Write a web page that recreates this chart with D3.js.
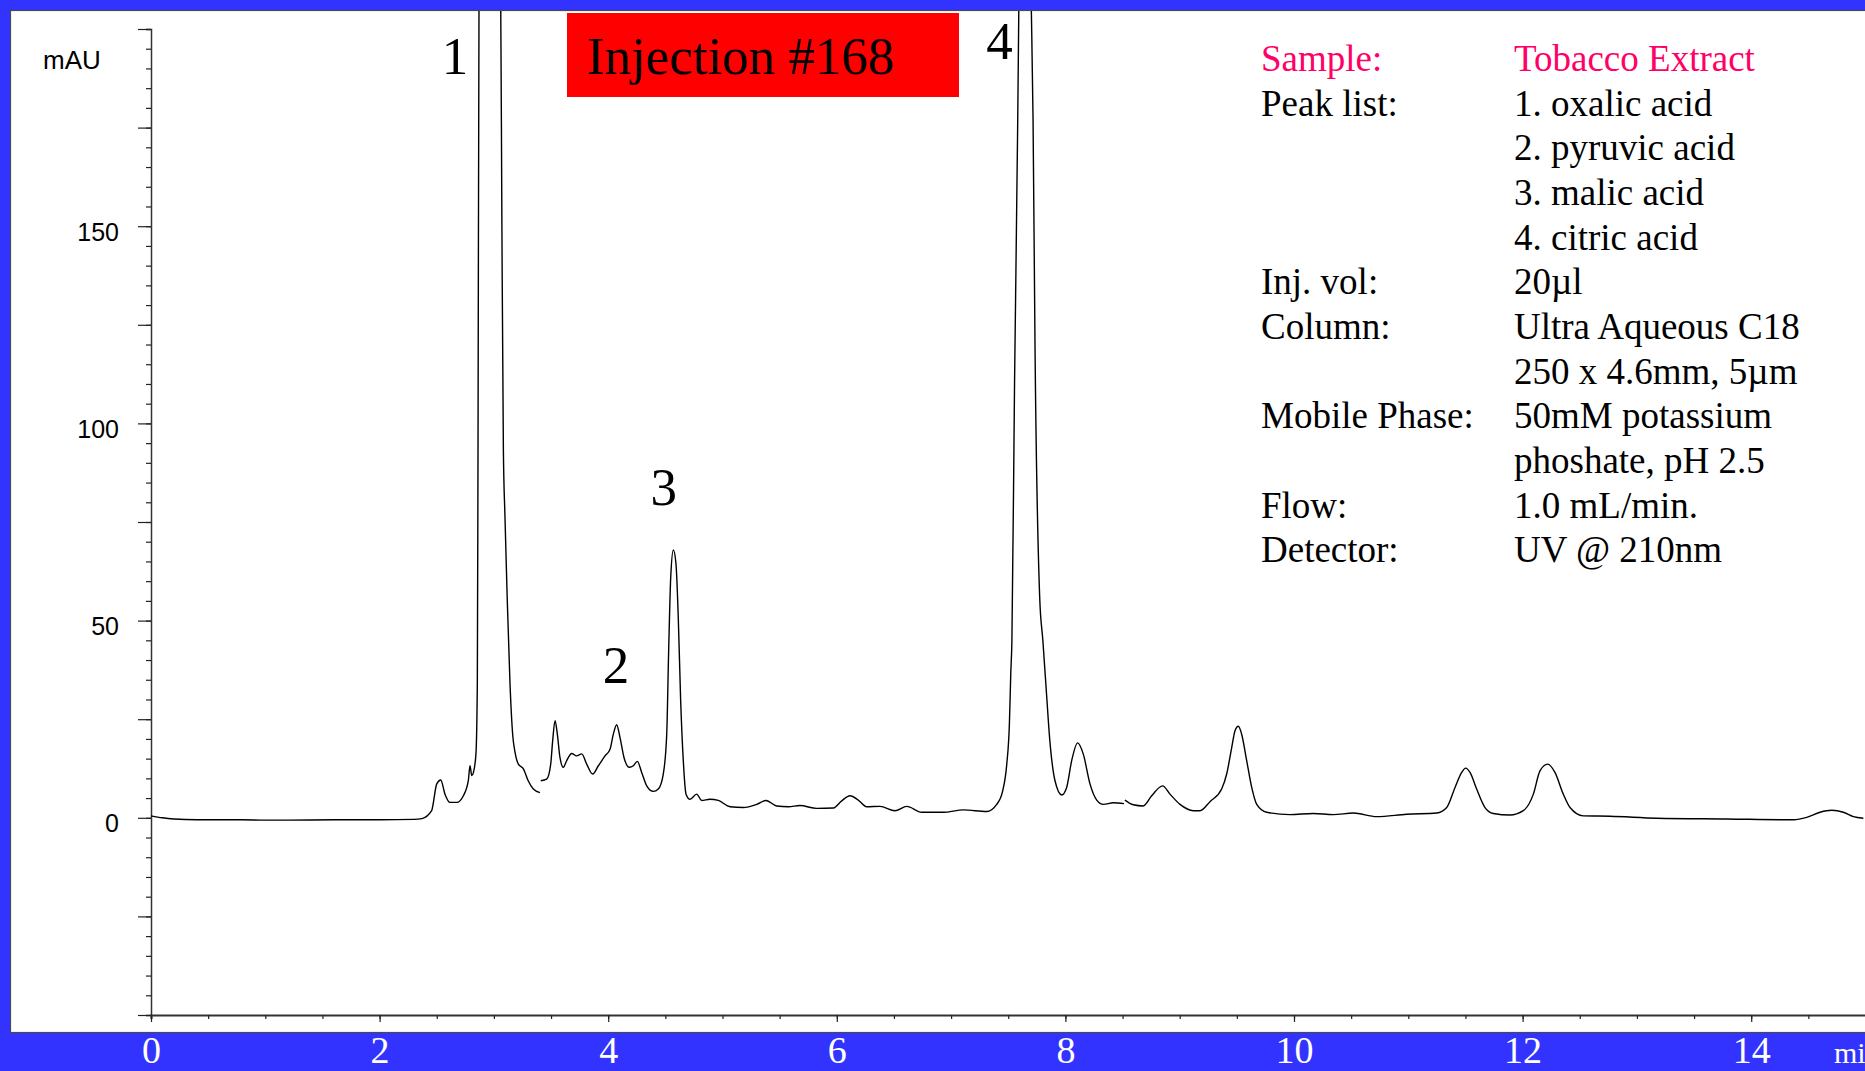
<!DOCTYPE html>
<html><head><meta charset="utf-8">
<script src="https://cdn.jsdelivr.net/npm/d3@7"></script>
<style>
html,body{margin:0;padding:0;background:#3333ff;overflow:hidden}
svg{display:block}
</style></head>
<body>
<svg id="chart" width="1865" height="1071"></svg>
<script>
// ---- Data (time in min, absorbance in mAU) ----
const traceSegment1 = [
  [0.00,0.5],[0.10,0.0],[0.20,-0.3],[0.40,-0.5],[0.80,-0.5],[1.00,-0.6],[1.20,-0.6],[1.60,-0.5],[2.00,-0.5],[2.30,-0.4],[2.37,-0.2],
  [2.455,1.8],[2.50,8.6],[2.535,9.6],[2.572,6.0],[2.616,3.9],[2.675,3.9],[2.733,5.6],[2.776,9.4],[2.791,13.2],[2.806,10.7],[2.82,11.4],
  [2.843,16.2],[2.855,34],[2.861,93],[2.87,210],[2.96,320],[3.059,210],[3.07,150],[3.083,93.1],[3.097,76.2],[3.117,55.1],[3.141,33.9],
  [3.164,21.2],[3.185,16.6],[3.214,13.6],[3.258,12.4],[3.30,9.4],[3.345,7.3],[3.403,6.4]
];
const traceSegment2 = [
  [3.41,9.4],[3.462,9.8],[3.497,13.6],[3.514,19.5],[3.535,24.6],[3.555,21.2],[3.578,15.3],[3.607,12.8],[3.637,14.5],[3.681,16.3],
  [3.724,15.7],[3.768,16.2],[3.812,13.6],[3.864,11.1],[3.914,13.2],[3.972,15.7],[4.016,17.4],[4.045,21.2],[4.074,23.6],[4.103,20.4],
  [4.138,15.3],[4.185,12.8],[4.22,13.2],[4.255,14.3],[4.293,11.5],[4.337,8.1],[4.395,6.7],[4.438,7.3],[4.482,11.1],[4.512,21.2],
  [4.529,42.4],[4.547,61.0],[4.57,67.9],[4.593,64.4],[4.613,50.8],[4.634,29.7],[4.657,14.5],[4.681,6.0],[4.716,4.7],[4.774,6.0],
  [4.818,4.4],[4.89,4.7],[4.963,4.4],[5.066,2.8],[5.182,2.6],[5.299,3.4],[5.381,4.4],[5.474,3.0],[5.576,2.8],[5.678,3.1],
  [5.824,2.4],[5.97,2.5],[6.043,4.3],[6.116,5.6],[6.188,4.5],[6.261,2.8],[6.378,2.9],[6.509,1.8],[6.612,2.9],[6.743,1.4],
  [6.932,1.4],[7.107,2.0],[7.312,1.6],[7.399,3.4],[7.452,6.9],[7.487,13.6],[7.51,23.8],[7.522,36.5],[7.532,44.9],[7.555,110],
  [7.583,177],[7.594,210],[7.65,320],[7.699,210],[7.717,177],[7.735,117],[7.775,56],[7.803,44.9],[7.833,32.2],[7.864,19.5],
  [7.909,9.4],[7.968,5.8],[8.011,7.7],[8.055,14.5],[8.107,19.0],[8.156,16.2],[8.215,8.6],[8.274,4.5],[8.332,3.4],[8.419,3.8],[8.513,3.6]
];
const traceSegment3 = [
  [8.521,4.5],[8.594,3.3],[8.681,3.0],[8.755,5.6],[8.851,8.1],[8.915,6.0],[9.003,3.4],[9.119,1.8],[9.178,1.8],[9.265,4.1],
  [9.367,7.3],[9.411,11.1],[9.455,17.8],[9.484,22.1],[9.513,23.2],[9.542,21.2],[9.586,14.5],[9.630,7.7],[9.674,3.4],[9.761,1.4],
  [9.965,0.8],[10.169,1.1],[10.344,0.8],[10.519,1.2],[10.724,0.3],[10.986,0.9],[11.249,1.2],[11.336,2.6],[11.409,7.7],[11.467,11.5],
  [11.502,12.6],[11.540,11.5],[11.598,7.3],[11.671,2.6],[11.744,1.1],[11.89,0.7],[12.006,1.8],[12.094,6.0],[12.152,11.9],[12.22,13.6],
  [12.283,11.5],[12.356,6.0],[12.415,2.6],[12.531,0.5],[12.765,0.4],[13.173,-0.1],[13.786,-0.3],[14.369,-0.5],[14.486,0.1],
  [14.602,1.4],[14.705,1.9],[14.806,1.4],[14.894,0.3],[14.981,-0.1]
];
const traceSegments = [traceSegment1, traceSegment2, traceSegment3];

const xDomain = [0, 15];
const yDomain = [-50, 200];
const xMajorTicks = [0, 2, 4, 6, 8, 10, 12, 14];
const xTickLabels = ["0", "2", "4", "6", "8", "10", "12", "14"];
const xUnit = "min";
const yLabelTicks = [0, 50, 100, 150];
const yTickLabels = ["0", "50", "100", "150"];
const yUnit = "mAU";

const peakNames = ["1", "2", "3", "4"];
const peakLabelTime = [2.66, 4.068, 4.486, 7.424];
const peakLabelValue = [188.6, 34.3, 79.2, 192.4];

const titleText = "Injection #168";
const infoLabels = ["Sample:", "Peak list:", "", "", "", "Inj. vol:", "Column:", "", "Mobile Phase:", "", "Flow:", "Detector:"];
const infoValues = ["Tobacco Extract", "1. oxalic acid", "2. pyruvic acid", "3. malic acid", "4. citric acid", "20µl",
  "Ultra Aqueous C18", "250 x 4.6mm, 5µm", "50mM potassium", "phoshate, pH 2.5", "1.0 mL/min.", "UV @ 210nm"];

// ---- Drawing ----
const W = 1865, H = 1071;
const svg = d3.select("#chart");
const blue = "#3333ff";
const serif = "'Liberation Serif','Times New Roman',Times,serif";
const sans = "'Liberation Sans',Arial,Helvetica,sans-serif";

svg.append("rect").attr("x", 0).attr("y", 0).attr("width", W).attr("height", H).attr("fill", blue);
svg.append("rect").attr("x", 10.5).attr("y", 10.5).attr("width", W).attr("height", 1022)
  .attr("fill", "#fff").attr("stroke", "#4a4a4a").attr("stroke-width", 1.2);

svg.append("defs").append("clipPath").attr("id", "plotClip")
  .append("rect").attr("x", 11).attr("y", 11).attr("width", W).attr("height", 1021);

const x = d3.scaleLinear().domain(xDomain).range([151, 151 + 15 * 114.3]);
const y = d3.scaleLinear().domain(yDomain).range([1015, 29]);

// Y axis
const yMinor = d3.range(-50, 201, 5);
const yMajor = d3.range(-50, 201, 25);
const gy = svg.append("g").attr("transform", `translate(${x(0)},0)`);
gy.call(d3.axisLeft(y).tickValues(yMinor).tickSize(5).tickFormat(""));
gy.append("g").call(d3.axisLeft(y).tickValues(yMajor).tickSize(13).tickFormat(""));
gy.selectAll("path.domain").attr("stroke", "#333").attr("stroke-width", 1.5);
gy.selectAll(".tick line").attr("stroke", "#222").attr("stroke-width", 1.2);
gy.selectAll("g > g > path.domain").remove();

const yl = svg.append("g").attr("transform", `translate(${x(0)},0)`)
  .call(d3.axisLeft(y).tickValues(yLabelTicks).tickSize(0).tickPadding(32).tickFormat((d, i) => yTickLabels[i]));
yl.select("path.domain").remove();
yl.selectAll("text").attr("font-family", sans).attr("font-size", 25).attr("fill", "#000")
  .attr("dy", "14");

svg.append("text").attr("x", 43).attr("y", 68.5).attr("font-family", sans).attr("font-size", 26)
  .attr("fill", "#000").text(yUnit);

// X axis
const xMinor = d3.range(0, 15.01, 0.5);
const gx = svg.append("g").attr("transform", `translate(0,${y(-50)})`);
gx.call(d3.axisBottom(x).tickValues(xMinor).tickSize(4).tickFormat(""));
gx.selectAll("path.domain").attr("stroke", "#333").attr("stroke-width", 2);
const gx2 = svg.append("g").attr("transform", `translate(0,${y(-50)})`)
  .call(d3.axisBottom(x).tickValues(xMajorTicks).tickSize(7).tickPadding(14).tickFormat((d, i) => xTickLabels[i]));
gx2.select("path.domain").remove();
gx.selectAll(".tick line").attr("stroke", "#222").attr("stroke-width", 1.2);
gx2.selectAll(".tick line").attr("stroke", "#222").attr("stroke-width", 1.2);
gx2.selectAll("text").attr("font-family", serif).attr("font-size", 38).attr("fill", "#fff");
svg.append("text").attr("x", 1834).attr("y", 1063).attr("font-family", serif).attr("font-size", 30)
  .attr("fill", "#fff").text(xUnit);

// Trace
const line = d3.line().x(d => x(d[0])).y(d => y(d[1])).curve(d3.curveMonotoneX);
const gTrace = svg.append("g").attr("clip-path", "url(#plotClip)");
gTrace.selectAll("path.trace").data(traceSegments).join("path")
  .attr("class", "trace").attr("d", line).attr("fill", "none")
  .attr("stroke", "#000").attr("stroke-width", 1.4).attr("stroke-linejoin", "round");

// Title box
svg.append("rect").attr("x", 567).attr("y", 13).attr("width", 392).attr("height", 84).attr("fill", "#ff0000");
svg.append("text").attr("x", 587).attr("y", 74).attr("font-family", serif).attr("font-size", 53)
  .attr("fill", "#000").text(titleText);

// Peak labels
svg.selectAll("text.peak").data(peakNames).join("text").attr("class", "peak")
  .attr("x", (d, i) => x(peakLabelTime[i])).attr("y", (d, i) => y(peakLabelValue[i]))
  .attr("text-anchor", "middle").attr("font-family", serif).attr("font-size", 53).attr("fill", "#000")
  .text(d => d);

// Info block
const info = svg.append("g").attr("font-family", serif).attr("font-size", 37);
infoLabels.forEach((t, i) => {
  const col = i === 0 ? "#ff0066" : "#000";
  if (t) info.append("text").attr("x", 1261).attr("y", 71 + i * 44.66).attr("fill", col).text(t);
  info.append("text").attr("x", 1514).attr("y", 71 + i * 44.66).attr("fill", col).text(infoValues[i]);
});
</script>
</body></html>
